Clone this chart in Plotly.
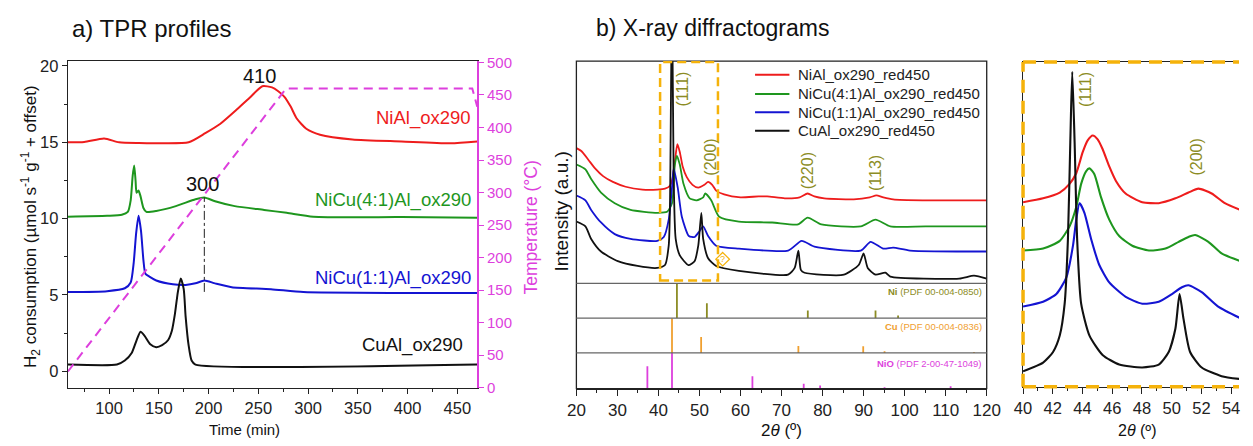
import plotly.graph_objects as go

W, H = 1253, 446


def px(x):
    return x / W


def py(y):
    return 1 - y / H


FONT = "Arial, 'Liberation Sans', sans-serif"
MAGENTA = "#dd3fdd"
OLIVE = "#8c8c24"
ORANGE = "#f5b20a"
CU_COL = "#f0a030"
RED, GREEN, BLUE, BLACK = "#ee1c1c", "#1e961e", "#1414d2", "#111111"

# ---------------- a) TPR profiles ----------------
t_nial = [58.6, 75, 95, 110, 130, 150, 180, 196.7, 211.5, 229.2, 241, 254, 263.7, 270, 276,
          282.5, 288.4, 298.2, 312, 344.6, 393.9, 443.2, 470]
h_nial = [15.0, 15.02, 15.25, 15.0, 14.95, 14.94, 15.0, 15.6, 16.2, 17.2, 17.9, 18.67, 18.6, 18.35,
          18.0, 17.34, 16.58, 15.89, 15.5, 15.19, 15.06, 14.94, 15.06]

t_nicu41 = [58.6, 98, 112.8, 118.8, 121.7, 123.7, 125.2, 126.6, 127.6, 129.6, 131.6, 134.5, 137.5,
            147.4, 167.1, 186.8, 195.7, 206.5, 226.3, 255.8, 278.5, 305.2, 393.9, 470]
h_nicu41 = [10.13, 10.19, 10.25, 10.44, 11.2, 12.8, 13.48, 12.5, 11.7, 11.84, 11.46, 10.7, 10.44,
            10.5, 10.82, 11.27, 11.39, 11.14, 10.82, 10.57, 10.38, 10.13, 10.1, 10.06]

t_nicu11 = [58.6, 98, 115.8, 121.7, 124.7, 127.1, 129.6, 132.1, 134.5, 136.5, 140.5, 147.4, 164.1,
            176.9, 186.8, 195.7, 206.5, 223.3, 262.7, 295.3, 393.9, 470]
h_nicu11 = [5.19, 5.25, 5.44, 5.82, 7.09, 8.99, 10.19, 9.18, 7.28, 6.39, 6.2, 5.95, 5.7,
            5.66, 5.76, 5.95, 5.76, 5.51, 5.38, 5.19, 5.13, 5.13]

t_cual = [58.6, 107.9, 115.8, 122.7, 127.6, 131.6, 135.5, 141.4, 147.4, 153.3, 159.2, 163.1, 166.1,
          169.1, 172, 175, 176.9, 179.9, 182.9, 186.8, 470]
h_cual = [0.44, 0.44, 0.7, 1.2, 2.03, 2.59, 2.34, 1.77, 1.58, 1.71, 2.03, 2.66, 3.73,
          5.19, 6.08, 5.38, 3.6, 1.71, 0.7, 0.44, 0.44]

# temperature programme
t_temp = [58.6, 278, 465, 470]
temp_c = [25, 460, 460, 432]

# ---------------- b) X-ray diffractograms ----------------
tt_nial = [20.0, 21.2, 22.9, 24.55, 26.5, 28.9, 32.0, 36.1, 39.7, 41.6, 42.8, 43.5, 44.0, 44.6, 45.2,
           45.9, 46.9, 48.3, 49.7, 51.2, 52.1, 53.1, 54.05, 56.0, 60.0, 64.4, 66.5, 70.8, 74.4, 76.35,
           78.0, 80.4, 87.6, 91.5, 93.1, 94.8, 97.2, 104.4, 120]
i_nial = [140, 137, 128, 119, 111, 105, 100, 97, 97, 98, 101, 110, 126, 144, 136,
          121, 110, 102, 99, 102, 105, 102, 96, 92, 89, 90, 90, 88, 89, 93,
          90, 88, 87, 89, 91, 89, 87, 86, 86]

tt_nicu41 = [20.0, 22.2, 23.6, 26.0, 29.35, 33.2, 39.7, 42.1, 43.3, 44.0, 44.5, 45.2, 46.1, 47.6,
             49.3, 50.9, 51.4, 52.85, 54.8, 59.6, 67.7, 74.0, 76.35, 79.7, 89.3, 92.9, 96.5, 105.1, 120]
i_nicu41 = [123, 118, 108, 94, 83, 76, 73, 74, 83, 123, 132, 123, 103, 88,
            86, 89, 93, 86, 69, 64, 63, 61, 68, 61, 59, 66, 59, 59, 59]

tt_nicu11 = [20.0, 22.2, 23.6, 26.0, 29.35, 33.2, 39.7, 41.3, 42.5, 43.3, 43.7, 44.7, 45.7, 47.4,
             48.8, 50.0, 50.9, 52.1, 54.05, 59.6, 71.6, 74.9, 78.0, 89.3, 91.7, 94.8, 97.2, 101.3, 120]
i_nicu11 = [91, 86, 76, 63, 51, 46, 44, 48, 66, 99, 119, 99, 69, 49,
            48, 54, 59, 49, 39, 36, 34, 44, 38, 34, 43, 36, 37, 34, 33]

tt_cual = [20.0, 22.2, 23.6, 26.0, 30.1, 34.9, 39.7, 41.6, 42.5, 42.8, 43.3, 43.7, 44.2, 45.2, 47.3,
           48.8, 49.7, 50.45, 50.9, 52.1, 54.05, 59.6, 71.6, 73.2, 74.1, 74.7, 75.6, 85.2, 88.8, 90.0,
           91.0, 92.9, 95.3, 96.5, 113.3, 116.9, 120]
i_cual = [64, 59, 46, 33, 23, 18, 16, 19, 39, 79, 300, 113, 46, 29, 19,
          23, 39, 73, 46, 26, 18, 13, 9, 16, 34, 14, 11, 9, 19, 31,
          16, 9, 11, 7, 5, 8, 5]

# reference stick patterns (relative intensity, %)
ni_pos = [44.5, 51.8, 76.4, 92.9, 98.4]
ni_int = [100, 43, 22, 22, 8]
cu_pos = [43.3, 50.4, 74.1, 89.9, 95.1, 116.9]
cu_int = [100, 46, 20, 19, 5, 3]
nio_pos = [37.3, 43.3, 62.9, 75.4, 79.4, 95.1, 111.2]
nio_int = [63, 100, 35, 14, 9, 4, 7]

# enlarged 40-55 degree region
zt_nial = [40.0, 41.35, 42.47, 43.13, 43.58, 44.02, 44.35, 44.69, 45.02, 45.35, 45.8, 46.25, 46.9,
           48.02, 49.13, 50.25, 51.13, 51.8, 52.69, 53.58, 54.62]
zi_nial = [191, 195, 201, 210, 221, 243, 255, 260, 256, 246, 228, 213, 200,
           191, 190, 195, 201, 205, 200, 190, 183]
zt_nicu41 = [40.0, 41.35, 42.47, 43.13, 43.58, 43.91, 44.24, 44.47, 44.8, 45.25, 45.8, 46.47, 47.35,
             48.47, 49.58, 50.47, 51.13, 51.58, 52.47, 53.36, 54.62]
zi_nicu41 = [141, 143, 151, 166, 186, 210, 223, 226, 220, 196, 173, 156, 146,
             141, 143, 150, 155, 157, 150, 138, 130]
zt_nicu11 = [40.0, 41.35, 42.24, 42.91, 43.36, 43.58, 43.8, 44.13, 44.58, 45.13, 45.8, 46.91, 48.02,
             49.13, 50.02, 50.69, 51.13, 52.02, 53.13, 54.62]
zi_nicu11 = [83, 88, 96, 113, 146, 173, 190, 180, 153, 126, 108, 93, 86,
             88, 96, 103, 105, 98, 83, 71]
zt_cual = [40.0, 41.35, 42.02, 42.47, 42.8, 43.02, 43.18, 43.31, 43.47, 43.64, 43.91, 44.47, 45.35,
           46.47, 48.02, 49.13, 49.8, 50.25, 50.53, 50.8, 51.24, 52.02, 53.36, 54.62]
zi_cual = [16, 25, 36, 53, 86, 153, 253, 326, 253, 153, 86, 53, 33,
           23, 20, 23, 36, 60, 96, 70, 36, 20, 11, 8]

fig = go.Figure()

# --- TPR curves ---
for t, h, c in [(t_nial, h_nial, RED), (t_nicu41, h_nicu41, GREEN),
                (t_nicu11, h_nicu11, BLUE), (t_cual, h_cual, BLACK)]:
    fig.add_trace(go.Scatter(x=t, y=h, mode="lines", showlegend=False, xaxis="x", yaxis="y",
                             line=dict(color=c, width=2, shape="spline", smoothing=0.6)))
fig.add_trace(go.Scatter(x=t_temp, y=temp_c, mode="lines", showlegend=False, xaxis="x", yaxis="y2",
                         line=dict(color=MAGENTA, width=2, dash="9px,6px")))

# --- XRD patterns ---
xrd = [("NiAl_ox290_red450", tt_nial, i_nial, zt_nial, zi_nial, RED),
       ("NiCu(4:1)Al_ox290_red450", tt_nicu41, i_nicu41, zt_nicu41, zi_nicu41, GREEN),
       ("NiCu(1:1)Al_ox290_red450", tt_nicu11, i_nicu11, zt_nicu11, zi_nicu11, BLUE),
       ("CuAl_ox290_red450", tt_cual, i_cual, zt_cual, zi_cual, BLACK)]
for name, tt, ii, zt, zi, c in xrd:
    fig.add_trace(go.Scatter(x=tt, y=ii, mode="lines", name=name, showlegend=False,
                             xaxis="x2", yaxis="y3",
                             line=dict(color=c, width=1.8, shape="spline", smoothing=0.6)))
    fig.add_trace(go.Scatter(x=zt, y=zi, mode="lines", showlegend=False, xaxis="x3", yaxis="y7",
                             line=dict(color=c, width=2.1, shape="spline", smoothing=0.6)))


def sticks(pos, inten):
    xs, ys = [], []
    for p, v in zip(pos, inten):
        xs += [p, p, None]
        ys += [0, v, None]
    return xs, ys


for pos, inten, c, ya in [(ni_pos, ni_int, OLIVE, "y4"), (cu_pos, cu_int, CU_COL, "y5"),
                          (nio_pos, nio_int, MAGENTA, "y6")]:
    xs, ys = sticks(pos, inten)
    fig.add_trace(go.Scatter(x=xs, y=ys, mode="lines", showlegend=False, xaxis="x2", yaxis=ya,
                             line=dict(color=c, width=1.8)))

tick_a = dict(size=16.5, color="#222", family=FONT)
hidden_y = dict(showticklabels=False, ticks="", showline=False, showgrid=False, zeroline=False)

fig.update_layout(
    width=W, height=H, margin=dict(l=0, r=0, t=0, b=0), showlegend=False,
    paper_bgcolor="white", plot_bgcolor="rgba(0,0,0,0)",
    font=dict(family=FONT, color="#111"),
    xaxis=dict(domain=[px(60), px(477)], range=[58.6, 470], anchor="y",
               showline=True, linecolor="#222", linewidth=1.3, mirror=True,
               ticks="outside", ticklen=5, tickcolor="#222", dtick=50, tick0=0,
               minor=dict(ticks="outside", ticklen=3, dtick=25, tickcolor="#222"),
               showgrid=False, zeroline=False, tickfont=tick_a),
    yaxis=dict(domain=[py(394), py(56)], range=[-1.08, 20.32], anchor="x",
               showline=True, linecolor="#222", linewidth=1.3,
               ticks="outside", ticklen=5, tickcolor="#222", dtick=5, tick0=0,
               minor=dict(ticks="outside", ticklen=3, dtick=2.5, tickcolor="#222"),
               showgrid=False, zeroline=False, tickfont=tick_a),
    yaxis2=dict(overlaying="y", side="right", anchor="x", range=[0, 502],
                showline=True, linecolor=MAGENTA, linewidth=1.5,
                ticks="outside", ticklen=5, tickcolor=MAGENTA, dtick=50, tick0=0,
                showgrid=False, zeroline=False,
                tickfont=dict(size=15, color=MAGENTA, family=FONT)),
    xaxis2=dict(domain=[px(578), px(996)], range=[20, 120], anchor="y6",
                showline=True, linecolor="#222", linewidth=1.3,
                ticks="outside", ticklen=6, tickcolor="#222", dtick=10, tick0=0,
                minor=dict(ticks="outside", ticklen=3, dtick=5, tickcolor="#222"),
                showgrid=False, zeroline=False, tickfont=dict(size=17, color="#222", family=FONT)),
    yaxis3=dict(domain=[py(286), py(56)], range=[0, 230], anchor="x2", **hidden_y),
    yaxis4=dict(domain=[py(322), py(286)], range=[0, 100], anchor="x2", **hidden_y),
    yaxis5=dict(domain=[py(358), py(322)], range=[0, 100], anchor="x2", **hidden_y),
    yaxis6=dict(domain=[py(395), py(358)], range=[0, 100], anchor="x2", **hidden_y),
    xaxis3=dict(domain=[px(1033), 1.0], range=[40, 54.53], anchor="y7",
                showline=True, linecolor="#222", linewidth=1.3, mirror=True,
                ticks="outside", ticklen=6, tickcolor="#222", dtick=2, tick0=40,
                minor=dict(ticks="outside", ticklen=3, dtick=1, tickcolor="#222"),
                showgrid=False, zeroline=False, tickfont=tick_a),
    yaxis7=dict(domain=[py(393), py(57)], range=[0, 336], anchor="x3",
                showline=True, linecolor="#222", linewidth=1.3,
                showticklabels=False, ticks="", showgrid=False, zeroline=False),
)

dash_box = "13px,8px"
shapes = [
    # frame and separators of the diffractogram panel
    dict(type="rect", xref="paper", yref="paper", x0=px(578), x1=px(996), y0=py(395), y1=py(56),
         line=dict(color="#222", width=1.3)),
    dict(type="line", xref="paper", yref="paper", x0=px(578), x1=px(996), y0=py(286), y1=py(286),
         line=dict(color="#666", width=1.3)),
    dict(type="line", xref="paper", yref="paper", x0=px(578), x1=px(996), y0=py(322), y1=py(322),
         line=dict(color="#666", width=1.3)),
    dict(type="line", xref="paper", yref="paper", x0=px(578), x1=px(996), y0=py(358), y1=py(358),
         line=dict(color="#666", width=1.3)),
    # region enlarged on the right
    dict(type="rect", xref="x2", yref="y3", x0=40.4, x1=54.5, y0=3, y1=229,
         line=dict(color=ORANGE, width=2.5, dash="9px,5px")),
    # dashed frame of the enlarged view
    dict(type="line", xref="paper", yref="paper", x0=px(1033), x1=1.0, y0=py(57), y1=py(57),
         line=dict(color=ORANGE, width=3.5, dash=dash_box)),
    dict(type="line", xref="paper", yref="paper", x0=px(1033), x1=1.0, y0=py(393), y1=py(393),
         line=dict(color=ORANGE, width=3.5, dash=dash_box)),
    dict(type="line", xref="paper", yref="paper", x0=px(1033), x1=px(1033), y0=py(393), y1=py(57),
         line=dict(color=ORANGE, width=3.5, dash=dash_box)),
    # 300 degC marker
    dict(type="line", xref="x", yref="y", x0=195.7, x1=195.7, y0=5.2, y1=11.39,
         line=dict(color="#222", width=1, dash="dashdot")),
    # small diamond marker
    dict(type="path", xref="paper", yref="paper",
         path=f"M {px(727)},{py(254)} L {px(734)},{py(261)} L {px(727)},{py(268)} L {px(720)},{py(261)} Z",
         line=dict(color=ORANGE, width=1.2)),
]

ann = []


def note(text, x, y, size=15, color="#111", xanchor="center", angle=0, xref="paper", yref="paper"):
    ann.append(dict(text=text, x=x, y=y, xref=xref, yref=yref, showarrow=False,
                    xanchor=xanchor, yanchor="middle", textangle=angle,
                    font=dict(size=size, color=color, family=FONT)))


# legend of the diffractograms
legend_rows = [70, 90, 109, 128]
for (name, *_rest), row in zip(xrd, legend_rows):
    colour = _rest[-1]
    shapes.append(dict(type="line", xref="paper", yref="paper", x0=px(760), x1=px(795),
                       y0=py(row), y1=py(row), line=dict(color=colour, width=2)))
    note(name, px(802), py(row), size=15, color="#222", xanchor="left")

note("a) TPR profiles", px(62), py(22), size=24, xanchor="left")
note("b) X-ray diffractograms", px(596), py(22), size=23, xanchor="left")
note("H<sub>2</sub> consumption (µmol s<sup>-1</sup> g<sup>-1</sup> + offset)", px(22), py(228),
     size=17, angle=-90)
note("Temperature (°C)", px(532), py(228), size=17.5, color=MAGENTA, angle=-90)
note("Time (min)", px(240), py(437), size=15)
note("Intensity (a.u.)", px(563), py(212), size=19, angle=-90)
note("2<i>θ</i> (º)", px(787), py(438), size=17)
note("2<i>θ</i> (º)", px(1150), py(438), size=16)

note("410", 251, 19.37, size=20, xref="x", yref="y")
note("300", 193.8, 12.3, size=20, xref="x", yref="y")
note("NiAl_ox290", 466, 16.6, size=18.5, color=RED, xanchor="right", xref="x", yref="y")
note("NiCu(4:1)Al_ox290", 466, 11.2, size=18.5, color=GREEN, xanchor="right", xref="x", yref="y")
note("NiCu(1:1)Al_ox290", 466, 6.14, size=18.5, color=BLUE, xanchor="right", xref="x", yref="y")
note("CuAl_ox290", 458, 1.7, size=18.5, color=BLACK, xanchor="right", xref="x", yref="y")

# Miller indices (pixel positions of the label centres)
for lbl, x, y in [("(111)", 686, 85), ("(200)", 715, 155), ("(220)", 813, 170), ("(113)", 882, 172),
                  ("(111)", 1096, 85), ("(200)", 1210, 155)]:
    note(lbl, px(x), py(y), size=16, color=OLIVE, angle=-90)

note("<b>Ni</b> (PDF 00-004-0850)", px(993), py(294), size=9.5, color=OLIVE, xanchor="right")
note("<b>Cu</b> (PDF 00-004-0836)", px(993), py(331), size=9.5, color=CU_COL, xanchor="right")
note("<b>NiO</b> (PDF 2-00-47-1049)", px(993), py(369), size=9.5, color=MAGENTA, xanchor="right")
note("?", px(727), py(261), size=9, color=ORANGE)

fig.update_layout(shapes=shapes, annotations=ann)
fig.write_html("out.html")
